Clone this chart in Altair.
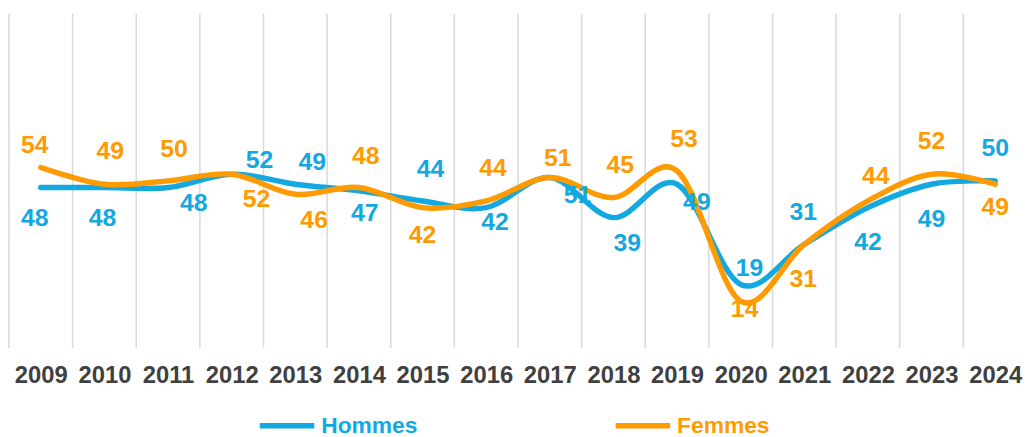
import altair as alt
import pandas as pd

years = list(range(2009, 2025))
hommes = [48, 48, 48, 52, 49, 47, 44, 42, 51, 39, 49, 19, 31, 42, 49, 50]
femmes = [54, 49, 50, 52, 46, 48, 42, 44, 51, 45, 53, 14, 31, 44, 52, 49]

# label nudges in pixels (right / down) relative to each point
h_dx = [-6, -2, 26, 28, 17, 6, 8, 9, 28, 14, 20, 9, -1, 0, 0, 0]
h_dy = [31, 31, 16, -14, -22, 22, -32, 15, 18, 26, 18, -17, -33, 35, 35, -33]
f_dx = [-6, 6, 6, 25, 19, 7, 0, 7, 8, 7, 7, 4, -1, 8, 0, 0]
f_dy = [-23, -33, -32, 25, 26, -32, 28, -33, -20, -33, -32, 8, 35, -25, -33, 23]

BLUE = "#14A8E0"
ORANGE = "#FF9A00"
W, H = 1027, 337
FONT = "Liberation Sans"

px_per_year = W / 16.0
px_per_unit = H / 100.0

xscale = alt.Scale(domain=[2008.5, 2024.5], nice=False, zero=False)
yscale = alt.Scale(domain=[0, 100], nice=False)


def frame(name, vals, dx, dy):
    return pd.DataFrame({
        "year": years,
        "value": vals,
        "serie": name,
        "lx": [y + d / px_per_year for y, d in zip(years, dx)],
        "ly": [v - d / px_per_unit for v, d in zip(vals, dy)],
    })


dh = frame("Hommes", hommes, h_dx, h_dy)
df = frame("Femmes", femmes, f_dx, f_dy)

xaxis = alt.Axis(
    values=years, format="d", title=None, grid=False, ticks=False, domain=False,
    labelFontSize=24, labelFontWeight="bold", labelColor="#404040", labelFont=FONT,
    labelPadding=16, labelFlush=False,
)

grid = alt.Chart(pd.DataFrame({"b": [y - 0.5 for y in years]})).mark_rule(
    color="#D9D9D9", strokeWidth=1.5
).encode(x=alt.X("b:Q", scale=xscale, axis=xaxis))


def line(d, name, color, lx):
    return alt.Chart(d).mark_line(
        interpolate="cardinal", strokeWidth=5.5, strokeCap="round"
    ).encode(
        x=alt.X("year:Q", scale=xscale, axis=xaxis),
        y=alt.Y("value:Q", scale=yscale, axis=None),
        color=alt.Color(
            "serie:N",
            scale=alt.Scale(domain=[name], range=[color]),
            legend=alt.Legend(
                orient="none", legendX=lx, legendY=385, title=None,
                symbolType="stroke", symbolSize=3025, symbolStrokeWidth=5.5,
                symbolStrokeColor=color,
                labelColor=color, labelFontSize=23, labelFontWeight="bold",
                labelFont=FONT, labelOffset=4,
            ),
        ),
    )


def labels(d, color):
    return alt.Chart(d).mark_text(
        color=color, fontSize=25, fontWeight="bold", font=FONT,
        align="center", baseline="middle",
    ).encode(
        x=alt.X("lx:Q", scale=xscale, axis=xaxis),
        y=alt.Y("ly:Q", scale=yscale, axis=None),
        text=alt.Text("value:Q"),
    )


chart = alt.layer(
    grid,
    line(dh, "Hommes", BLUE, 250),
    line(df, "Femmes", ORANGE, 609),
    labels(dh, BLUE),
    labels(df, ORANGE),
).resolve_scale(color="independent").properties(
    width=W, height=H,
    padding={"top": 3, "left": 0, "right": 0, "bottom": 0},
).configure_view(stroke=None)

chart.save("out.html", embed_options={"renderer": "svg", "actions": False})
